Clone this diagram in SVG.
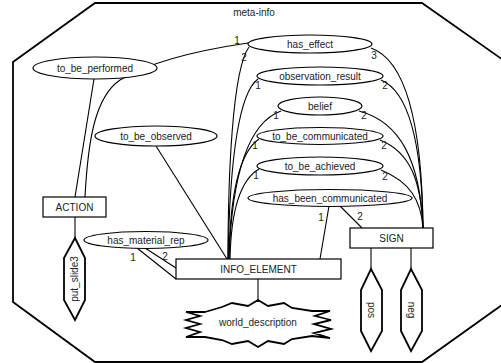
<svg xmlns="http://www.w3.org/2000/svg" width="501" height="363" viewBox="0 0 501 363">
<style>
text{font-family:"Liberation Sans",Arial,sans-serif;font-size:10px;fill:#222;text-anchor:middle}
.n{fill:#fff;stroke:#000;stroke-width:1.2}
.b{fill:#fff;stroke:#000;stroke-width:1.8}
.c path,.c line{fill:none;stroke:#000;stroke-width:1.1}
</style>
<rect width="501" height="363" fill="#fff"/>
<g id="meta-info">
<polygon points="95,3 422,3 506,62 506,302 422,362 95,362 13,302 13,62" fill="none" stroke="#000" stroke-width="1.8"/>
<text x="254" y="16">meta-info</text>
</g>
<g class="c" id="connectors">
<line x1="94" y1="79" x2="75" y2="197"/>
<path d="M248,43 C200,50 150,62 120,80 C95,97 88,140 85,197"/>
<path d="M249,47 C232,70 228,180 228,259"/>
<path d="M258,79 C240,92 230,150 228,259"/>
<path d="M281,111 C250,122 232,170 229,259"/>
<path d="M259,139 C240,152 230,190 229,259"/>
<path d="M259,169 C240,180 231,210 230,259"/>
<path d="M371,48 C405,60 422,120 423,228"/>
<path d="M381,80 C410,92 422,150 423,228"/>
<path d="M359,111 C400,122 420,160 423,228"/>
<path d="M380,140 C410,152 421,180 423,228"/>
<path d="M381,170 C410,182 421,200 423,228"/>
<line x1="329" y1="206" x2="320" y2="259"/>
<line x1="340" y1="206" x2="362" y2="228"/>
<line x1="156" y1="146" x2="227" y2="259"/>
<line x1="137" y1="248" x2="176" y2="279"/>
<line x1="145" y1="248" x2="176" y2="268"/>
<line x1="75" y1="217" x2="75" y2="238"/>
<line x1="258" y1="279" x2="258" y2="300"/>
<line x1="371" y1="248" x2="371" y2="269"/>
<line x1="411" y1="248" x2="411" y2="269"/>
<text x="237" y="44">1</text>
<text x="244" y="61">2</text>
<text x="374" y="59">3</text>
<text x="258" y="89">1</text>
<text x="385" y="89">2</text>
<text x="276" y="119">1</text>
<text x="364" y="119">2</text>
<text x="255" y="149">1</text>
<text x="384" y="149">2</text>
<text x="256" y="179">1</text>
<text x="385" y="180">2</text>
<text x="321" y="221">1</text>
<text x="360" y="220">2</text>
<text x="133" y="261">1</text>
<text x="165" y="260">2</text>
</g>
<g id="to_be_performed"><ellipse class="n" cx="95" cy="68" rx="62" ry="11"/><text x="95" y="72">to_be_performed</text></g>
<g id="to_be_observed"><ellipse class="n" cx="156" cy="136" rx="61" ry="10"/><text x="156" y="140">to_be_observed</text></g>
<g id="has_effect"><ellipse class="n" cx="310" cy="44" rx="62" ry="9"/><text x="310" y="48">has_effect</text></g>
<g id="observation_result"><ellipse class="n" cx="320" cy="76" rx="63" ry="9"/><text x="320" y="80">observation_result</text></g>
<g id="belief"><ellipse class="n" cx="320" cy="106" rx="42" ry="9"/><text x="320" y="110">belief</text></g>
<g id="to_be_communicated"><ellipse class="n" cx="320" cy="136" rx="63" ry="8.5"/><text x="320" y="140">to_be_communicated</text></g>
<g id="to_be_achieved"><ellipse class="n" cx="320" cy="166" rx="63" ry="9"/><text x="320" y="170">to_be_achieved</text></g>
<g id="has_been_communicated"><ellipse class="n" cx="330" cy="198" rx="82" ry="8.5"/><text x="330" y="202">has_been_communicated</text></g>
<g id="has_material_rep"><ellipse class="n" cx="146" cy="240" rx="62" ry="8.5"/><text x="146" y="244">has_material_rep</text></g>
<g id="ACTION"><rect class="n" x="43" y="197" width="63" height="20"/><text x="74.5" y="211">ACTION</text></g>
<g id="INFO_ELEMENT"><rect class="n" x="176" y="259" width="165" height="20"/><text x="258.5" y="273">INFO_ELEMENT</text></g>
<g id="SIGN"><rect class="n" x="350" y="228" width="83" height="20"/><text x="391.5" y="242">SIGN</text></g>
<g id="put_slide3"><polygon class="b" points="75,238 85,258 85,300 75,320 64,300 64,258"/><text transform="translate(78,279) rotate(-90)">put_slide3</text></g>
<g id="pos"><polygon class="b" points="371,269 382,290 382,331 371,351 361,331 361,290"/><text transform="translate(368,310) rotate(90)">pos</text></g>
<g id="neg"><polygon class="b" points="411,269 422,290 422,331 411,351 401,331 401,290"/><text transform="translate(408,310) rotate(90)">neg</text></g>
<g id="world_description"><polygon class="b" points="205,312 222,307 232,303 248,306 258,300 268,306 284,303 292,308 312,311 330,311 315,316 331,320 314,324 331,329 314,333 330,338 312,336 292,339 284,344 268,341 258,347 248,341 232,344 222,340 205,337 186,337 200,332 186,328 200,324 186,320 200,316 186,312"/><text x="258" y="326">world_description</text></g>
</svg>
